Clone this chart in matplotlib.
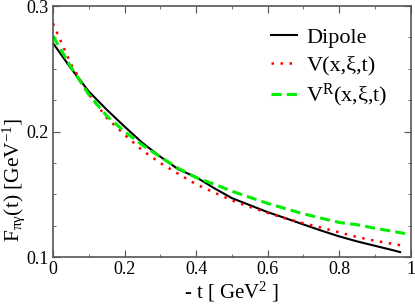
import matplotlib
matplotlib.use("Agg")
import matplotlib.pyplot as plt
from matplotlib.ticker import MultipleLocator

plt.rcParams['font.family'] = ['Liberation Serif', 'DejaVu Serif']
plt.rcParams['mathtext.fontset'] = 'custom'
plt.rcParams['mathtext.rm'] = 'Liberation Serif'
plt.rcParams['mathtext.it'] = 'Liberation Serif:italic'
plt.rcParams['mathtext.bf'] = 'Liberation Serif:bold'

# -t values [GeV^2]
t_vals = [0.0, 0.05, 0.1, 0.15, 0.2, 0.25, 0.3, 0.35, 0.4, 0.45, 0.5,
          0.55, 0.6, 0.65, 0.7, 0.75, 0.8, 0.85, 0.9, 0.95, 0.97]
dipole = [0.2705, 0.2505, 0.232, 0.2175, 0.204, 0.191, 0.180, 0.170, 0.1637, 0.155, 0.147,
          0.1414, 0.1358, 0.131, 0.126, 0.1211, 0.1165, 0.1125, 0.109, 0.1055, 0.104]
v_model = [0.2862, 0.2538, 0.2300, 0.211, 0.1975, 0.185, 0.175, 0.1664, 0.158, 0.1515, 0.1452,
           0.140, 0.1352, 0.1308, 0.127, 0.1235, 0.1197, 0.116, 0.113, 0.1105, 0.1095]

t_vals_r = [0.0, 0.05, 0.1, 0.15, 0.2, 0.25, 0.3, 0.35, 0.4, 0.45, 0.5,
            0.55, 0.6, 0.65, 0.7, 0.75, 0.8, 0.85, 0.9, 0.95, 0.99]
vr_model = [0.2762, 0.2515, 0.2295, 0.2125, 0.2001, 0.1892, 0.1798, 0.1708, 0.1633, 0.1582, 0.1525,
            0.1476, 0.1428, 0.1386, 0.1345, 0.131, 0.1276, 0.1258, 0.123, 0.1205, 0.1185]

fig = plt.figure(figsize=(4.15, 3.05), dpi=100)
ax = fig.add_axes([0.1277, 0.157, 0.8623, 0.823])

ax.plot(t_vals, dipole, color='black', lw=1.5, label='Dipole')
ax.plot(t_vals, v_model, color='red', lw=1.8, linestyle=(0, (1, 2.6)), label='V(x,ξ,t)')
ax.plot(t_vals_r, vr_model, color='#00ee00', lw=2.2, linestyle=(0, (3.3, 1.7)),
        label=r'V$^{\rm R}$(x,ξ,t)')

ax.set_xlim(0, 1)
ax.set_ylim(0.1, 0.3)
ax.xaxis.set_major_locator(MultipleLocator(0.2))
ax.xaxis.set_minor_locator(MultipleLocator(0.1))
ax.yaxis.set_major_locator(MultipleLocator(0.1))
ax.yaxis.set_minor_locator(MultipleLocator(0.025))
ax.xaxis.set_major_formatter(lambda v, p: f'{v:g}')
ax.yaxis.set_major_formatter(lambda v, p: f'{v:g}')
ax.tick_params(which='both', direction='in', top=True, right=True, labelsize=13,
               color='#555555')
ax.tick_params(which='major', length=5, pad=3)
ax.tick_params(which='minor', length=2.5)
for s in ax.spines.values():
    s.set_color('#555555')
    s.set_linewidth(1.2)

ax.set_xlabel(r'- t [ GeV$^2$ ]', fontsize=15, labelpad=1)
ax.set_ylabel(r'F$_{\mathrm{πγ}}$(t) [GeV$^{\mathrm{-1}}$]', fontsize=15.5)
ax.yaxis.set_label_coords(-0.074, 0.31)

ax.legend(loc='upper right', bbox_to_anchor=(0.96, 0.95), frameon=False, fontsize=16,
          handlelength=1.2, handletextpad=0.4, labelspacing=0.3, borderaxespad=0)

fig.savefig('out.png', dpi=100)
